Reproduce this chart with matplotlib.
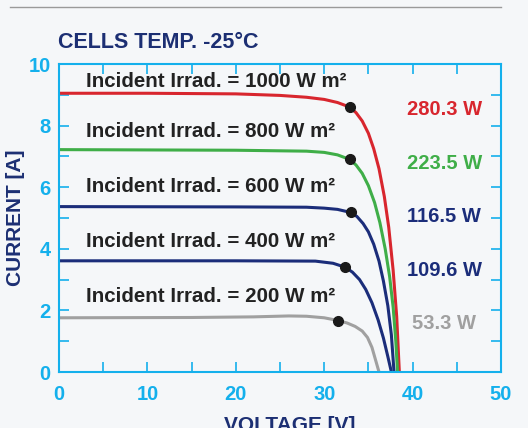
import matplotlib
matplotlib.use('Agg')
import matplotlib.pyplot as plt
from matplotlib.ticker import MultipleLocator

plt.rcParams['font.family'] = ['Liberation Sans', 'DejaVu Sans']

# I-V curves (voltage [V], current [A])
v_1000 = [0, 10, 20, 25, 28, 30, 31.5, 32.9, 33.6, 34.3, 35, 35.6, 36.2, 36.8, 37.3, 37.8, 38.2, 38.5]
i_1000 = [9.05, 9.05, 9.03, 8.98, 8.92, 8.85, 8.75, 8.6, 8.42, 8.15, 7.75, 7.25, 6.6, 5.7, 4.7, 3.3, 1.8, 0]
v_800 = [0, 20, 28, 30, 31.5, 32.9, 33.6, 34.3, 35, 35.7, 36.3, 36.9, 37.4, 37.8, 38.1, 38.3]
i_800 = [7.22, 7.2, 7.17, 7.13, 7.05, 6.9, 6.72, 6.45, 6.05, 5.5, 4.85, 4.0, 3.1, 2.1, 1.0, 0]
v_600 = [0, 20, 28, 30, 31.5, 33, 33.7, 34.4, 35, 35.6, 36.2, 36.7, 37.2, 37.6, 37.9]
i_600 = [5.37, 5.36, 5.35, 5.32, 5.28, 5.18, 5.05, 4.82, 4.55, 4.15, 3.6, 2.95, 2.15, 1.2, 0]
v_400 = [0, 20, 29, 31, 32.4, 33.2, 34, 34.7, 35.4, 36.1, 36.7, 37.2, 37.6]
i_400 = [3.61, 3.61, 3.6, 3.53, 3.4, 3.24, 3.0, 2.68, 2.25, 1.69, 1.1, 0.5, 0]
v_200 = [0, 15, 22, 26, 28, 30, 31.6, 32.6, 33.5, 34.3, 34.9, 35.4, 35.8, 36.2]
i_200 = [1.76, 1.77, 1.79, 1.82, 1.81, 1.76, 1.67, 1.59, 1.48, 1.33, 1.12, 0.8, 0.4, 0]

# max power points
mpp_v = [32.9, 32.9, 33.0, 32.4, 31.6]
mpp_i = [8.6, 6.9, 5.18, 3.40, 1.67]

irrad_labels = ['Incident Irrad. = 1000 W m²', 'Incident Irrad. = 800 W m²',
                'Incident Irrad. = 600 W m²', 'Incident Irrad. = 400 W m²',
                'Incident Irrad. = 200 W m²']
irrad_label_y = [9.43, 7.80, 6.02, 4.23, 2.44]
power_labels = ['280.3 W', '223.5 W', '116.5 W', '109.6 W', '53.3 W']
power_label_y = [8.53, 6.78, 5.04, 3.29, 1.58]

colors = ['#d8262e', '#3fae48', '#1b2d7a', '#1b2d7a', '#a0a0a0']
cyan = '#14b0ec'
navy = '#1c2f73'
bg = '#f5f7f9'

fig = plt.figure(figsize=(5.28, 4.28), dpi=100, facecolor=bg)
ax = fig.add_axes([59/528, 56/428, 442/528, 308/428])
ax.set_facecolor(bg)

curves = [(v_1000, i_1000), (v_800, i_800), (v_600, i_600), (v_400, i_400), (v_200, i_200)]
for (v, i), c in zip(curves, colors):
    ax.plot(v, i, color=c, lw=2.2, solid_capstyle='round', solid_joinstyle='round')
ax.plot(mpp_v, mpp_i, 'o', color='#1a1a1a', ms=7, zorder=5)

for txt, y in zip(irrad_labels, irrad_label_y):
    ax.text(3.1, y, txt, fontsize=14.8, fontweight='bold', color='#222222', va='center', ha='left')
for txt, y, c in zip(power_labels, power_label_y, colors):
    ax.text(43.6, y, txt, fontsize=14.5, fontweight='bold', color=c, va='center', ha='center')

ax.set_xlim(0, 50)
ax.set_ylim(0, 10)
ax.xaxis.set_major_locator(MultipleLocator(10))
ax.xaxis.set_minor_locator(MultipleLocator(5))
ax.yaxis.set_major_locator(MultipleLocator(2))
ax.yaxis.set_minor_locator(MultipleLocator(1))
ax.tick_params(which='both', direction='in', top=True, right=True, length=7, width=1.2, color=cyan,
               labelcolor=cyan, labelsize=14.5)
ax.tick_params(axis='x', pad=9)
ax.tick_params(axis='y', pad=6)
for lab in ax.get_xticklabels() + ax.get_yticklabels():
    lab.set_fontweight('bold')
for s in ax.spines.values():
    s.set_color(cyan)
    s.set_linewidth(1.5)

ax.set_xlabel('VOLTAGE [V]', fontsize=15, fontweight='bold', color=navy)
ax.xaxis.set_label_coords(0.522, -0.142)
ax.set_ylabel('CURRENT [A]', fontsize=15, fontweight='bold', color=navy)
ax.yaxis.set_label_coords(-0.077, 0.5)

fig.text(58/528, 1 - 43/428, 'CELLS TEMP. -25°C', fontsize=15.5, fontweight='bold', color=navy,
         va='center', ha='left')
fig.add_artist(plt.Line2D([10/528, 501/528], [1 - 7/428, 1 - 7/428], color='#9a9a9a', lw=1))

fig.savefig('out.png', dpi=100, facecolor=bg)
